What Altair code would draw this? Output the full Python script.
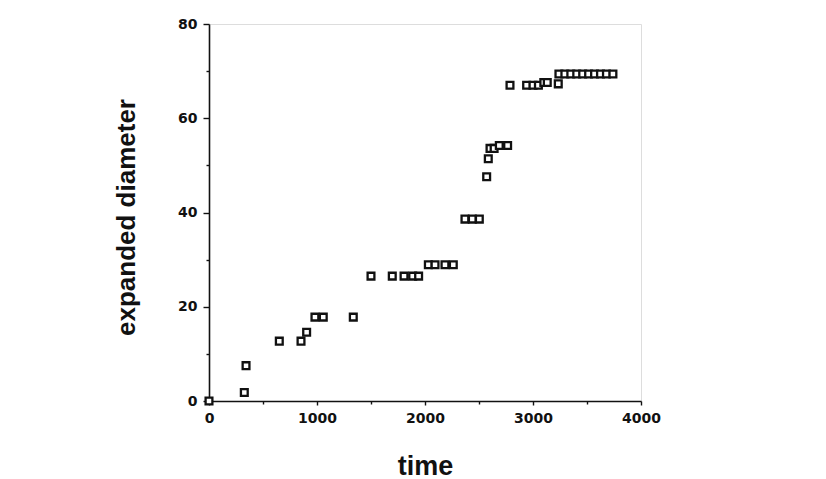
import altair as alt
import pandas as pd

time = [0, 327, 343, 651, 852, 904, 981, 1058, 1336, 1500,
        1697, 1806, 1886, 1941, 2031, 2093, 2185, 2262,
        2370, 2438, 2503, 2571, 2586, 2602, 2640, 2688, 2765,
        2787, 2941, 3000, 3050, 3100, 3132, 3234,
        3240, 3295, 3350, 3405, 3460, 3515, 3570, 3625, 3680, 3740]
diameter = [0, 1.8, 7.5, 12.7, 12.7, 14.6, 17.8, 17.8, 17.8, 26.5,
            26.5, 26.5, 26.5, 26.5, 28.9, 28.9, 28.9, 28.9,
            38.6, 38.6, 38.6, 47.6, 51.4, 53.6, 53.6, 54.2, 54.2,
            67.0, 67.0, 67.0, 67.0, 67.6, 67.6, 67.3,
            69.4, 69.4, 69.4, 69.4, 69.4, 69.4, 69.4, 69.4, 69.4, 69.4]

x_ticks = [0, 500, 1000, 1500, 2000, 2500, 3000, 3500, 4000]
y_ticks = [0, 10, 20, 30, 40, 50, 60, 70, 80]

df = pd.DataFrame({"time": time, "diameter": diameter})

TFONT = "Liberation Sans"
LFONT = "DejaVu Sans"

chart = alt.Chart(df).mark_point(
    shape="square", size=46, filled=False, stroke="#111111",
    strokeWidth=2.3, fill="white", fillOpacity=1, opacity=1
).encode(
    x=alt.X("time:Q", scale=alt.Scale(domain=[0, 4000], nice=False),
            axis=alt.Axis(title="time", values=x_ticks,
                          labelExpr="datum.value % 1000 === 0 ? datum.label : ''",
                          format="d",
                          tickSize={"condition": {"test": "datum.value % 1000 === 0", "value": 4}, "value": 3},
                          labelPadding=6, labelFontSize=14, labelFont=LFONT,
                          labelFontWeight="bold", titleFont=TFONT, titleFontSize=27,
                          titleFontWeight="bold", titleY=73, titleBaseline="alphabetic",
                          grid=False, domainColor="#111111", tickColor="#111111",
                          domainWidth=1.6, tickWidth=1.4, labelColor="#111111",
                          titleColor="#111111", labelFlush=False)),
    y=alt.Y("diameter:Q", scale=alt.Scale(domain=[0, 80], nice=False),
            axis=alt.Axis(title="expanded diameter", values=y_ticks,
                          labelExpr="datum.value % 20 === 0 ? datum.label : ''",
                          tickSize={"condition": {"test": "datum.value % 20 === 0", "value": 6}, "value": 3},
                          labelPadding=6, labelFontSize=14, labelFont=LFONT,
                          labelFontWeight="bold", titleFont=TFONT, titleFontSize=26,
                          titleFontWeight="bold", titleX=-70, titleY=193,
                          grid=False, domainColor="#111111", tickColor="#111111",
                          domainWidth=1.6, tickWidth=1.4, labelColor="#111111",
                          titleColor="#111111", labelFlush=False)),
).properties(
    width=432, height=377,
    autosize=alt.AutoSizeParams(type="none"),
    padding={"left": 209, "top": 24, "right": 185, "bottom": 78},
).configure_view(stroke=None).configure(background="white")

chart.save("out.html", embed_options={"renderer": "svg", "actions": False})
